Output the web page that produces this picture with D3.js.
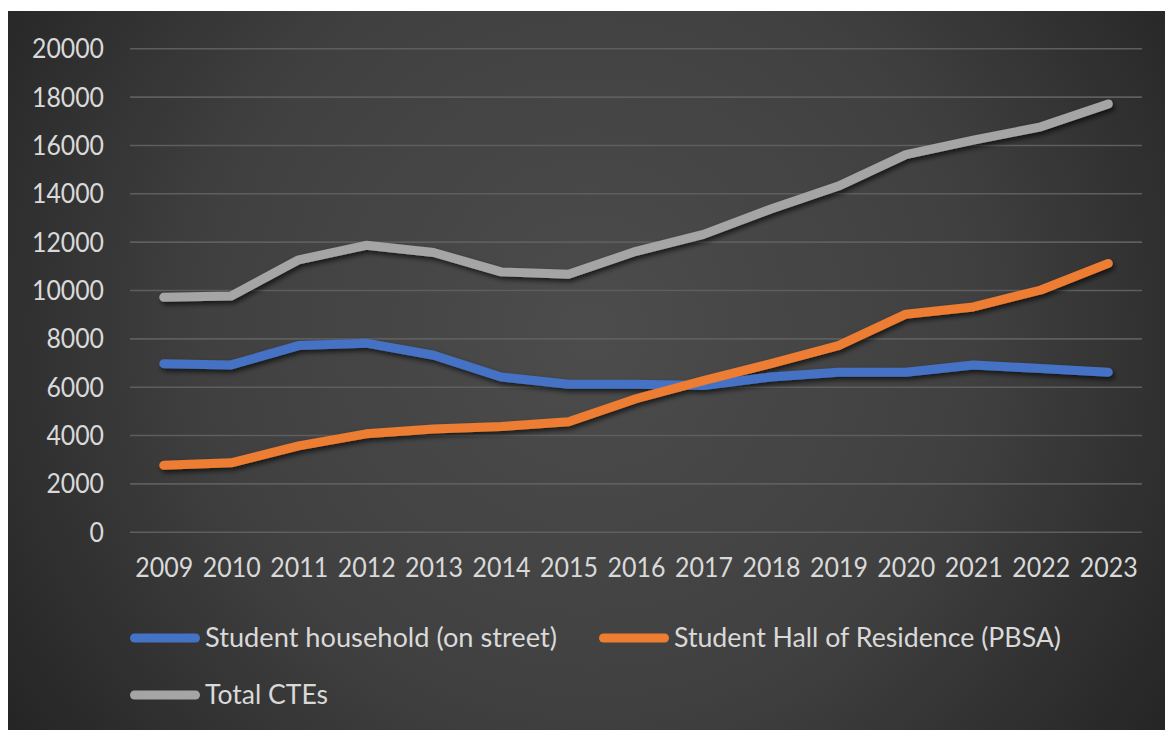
<!DOCTYPE html>
<html>
<head>
<meta charset="utf-8">
<script src="https://cdn.jsdelivr.net/npm/d3@7"></script>
<style>
  html, body { margin: 0; padding: 0; background: #ffffff; }
  svg { display: block; }
  text { font-family: Lato, "Open Sans", sans-serif; fill: #d9d9d9; }
</style>
</head>
<body>
<svg id="chart" width="1165" height="730"></svg>
<script>
// Yearly CTE counts by accommodation type
const years = ["2009", "2010", "2011", "2012", "2013", "2014", "2015", "2016",
               "2017", "2018", "2019", "2020", "2021", "2022", "2023"];
const household = [6950, 6900, 7700, 7800, 7300, 6400, 6100, 6100, 6050, 6400, 6600, 6600, 6900, 6750, 6600];
const halls     = [2750, 2850, 3550, 4050, 4250, 4350, 4550, 5500, 6250, 6950, 7700, 9000, 9300, 10000, 11100];
const total     = [9700, 9750, 11250, 11850, 11550, 10750, 10650, 11600, 12300, 13350, 14300, 15600, 16200, 16750, 17700];
const yTicks = [0, 2000, 4000, 6000, 8000, 10000, 12000, 14000, 16000, 18000, 20000];
const seriesNames = ["Student household (on street)", "Student Hall of Residence (PBSA)", "Total CTEs"];
const seriesColors = ["#4472c4", "#ed7d31", "#a5a5a5"];

const series = [household, halls, total].map((vals, i) => ({
  name: seriesNames[i], color: seriesColors[i],
  points: vals.map((v, j) => ({ year: years[j], value: v }))
}));

const svg = d3.select("#chart");
const defs = svg.append("defs");

// dark radial fill of the chart area
const grad = defs.append("radialGradient")
  .attr("id", "bg").attr("gradientUnits", "userSpaceOnUse")
  .attr("cx", 590).attr("cy", 330).attr("r", 700);
grad.append("stop").attr("offset", "0%").attr("stop-color", "#4c4c4c");
grad.append("stop").attr("offset", "55%").attr("stop-color", "#404040");
grad.append("stop").attr("offset", "100%").attr("stop-color", "#252525");

const shadow = defs.append("filter").attr("id", "shadow")
  .attr("x", "-5%").attr("y", "-20%").attr("width", "110%").attr("height", "140%");
shadow.append("feDropShadow").attr("dx", 2).attr("dy", 3)
  .attr("stdDeviation", 2.5).attr("flood-color", "#000").attr("flood-opacity", 0.65);

svg.append("rect").attr("x", 8).attr("y", 11).attr("width", 1157).attr("height", 719)
  .attr("fill", "url(#bg)");

const plot = { left: 130, right: 1142, top: 48.3, bottom: 531.7 };

const x = d3.scalePoint().domain(years).range([plot.left, plot.right]).padding(0.5);
const y = d3.scaleLinear().domain([0, 20000]).range([plot.bottom, plot.top]);

// horizontal gridlines
const grid = svg.append("g").attr("transform", `translate(${plot.left},0)`)
  .call(d3.axisLeft(y).tickValues(yTicks).tickSize(-(plot.right - plot.left)).tickFormat(""));
grid.select(".domain").remove();
grid.selectAll("line").attr("stroke", "#5e5e5e").attr("stroke-width", 1.6);

// value axis labels
const yAxis = svg.append("g").attr("transform", "translate(104,0)")
  .call(d3.axisLeft(y).tickValues(yTicks).tickSize(0).tickPadding(0).tickFormat(d3.format("d")));
yAxis.select(".domain").remove();
yAxis.selectAll("text").attr("font-size", 26).attr("fill", "#d9d9d9")
  .attr("font-family", "Lato, sans-serif").attr("dy", "0.36em")
  .attr("textLength", d => String(d).length * 14.4).attr("lengthAdjust", "spacingAndGlyphs");

// category axis labels
const xAxis = svg.append("g").attr("transform", "translate(0,558)")
  .call(d3.axisBottom(x).tickSize(0).tickPadding(0));
xAxis.select(".domain").remove();
xAxis.selectAll("text").attr("font-size", 26).attr("fill", "#d9d9d9")
  .attr("font-family", "Lato, sans-serif").attr("dy", "0.72em")
  .attr("textLength", 58).attr("lengthAdjust", "spacingAndGlyphs");

// series lines
const line = d3.line().x(d => x(d.year)).y(d => y(d.value));
svg.append("g").attr("filter", "url(#shadow)")
  .selectAll("path").data(series).join("path")
  .attr("d", d => line(d.points))
  .attr("fill", "none")
  .attr("stroke", d => d.color)
  .attr("stroke-width", 9)
  .attr("stroke-linecap", "round")
  .attr("stroke-linejoin", "round");

// legend
const legendPos = [
  { lx: 130, ly: 638, tw: 352 },
  { lx: 599, ly: 638, tw: 387 },
  { lx: 130, ly: 695, tw: 123 }
];
const legend = svg.append("g").selectAll("g").data(series).join("g")
  .attr("transform", (d, i) => `translate(${legendPos[i].lx},${legendPos[i].ly})`);
legend.append("line").attr("x1", 4.5).attr("x2", 65.5).attr("y1", 0).attr("y2", 0)
  .attr("stroke", d => d.color).attr("stroke-width", 9).attr("stroke-linecap", "round");
legend.append("text").attr("x", 75).attr("y", 0).attr("dy", "0.36em")
  .attr("font-size", 26)
  .attr("textLength", (d, i) => legendPos[i].tw).attr("lengthAdjust", "spacingAndGlyphs")
  .text(d => d.name);
</script>
</body>
</html>
